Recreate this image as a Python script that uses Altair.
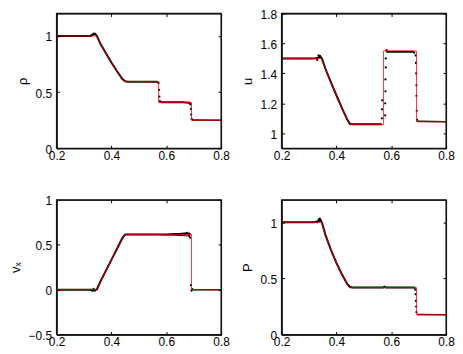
import altair as alt
import pandas as pd

# ---- data ----
X_TICKS = [0.2, 0.4, 0.6, 0.8]
X_DOMAIN = [0.2, 0.8]

# exact (red) solution, shared x positions
EX_X = [0.2, 0.345, 0.36, 0.38, 0.40, 0.42, 0.44, 0.4476, 0.572, 0.572, 0.692, 0.692, 0.8]
EX_RHO = [1.0, 1.0, 0.931, 0.845, 0.764, 0.688, 0.618, 0.593, 0.593, 0.408, 0.408, 0.249, 0.249]
EX_U = [1.5, 1.5, 1.431, 1.34, 1.254, 1.17, 1.09, 1.058, 1.058, 1.55, 1.55, 1.077, 1.077]
EX_VX = [0.0, 0.0, 0.091, 0.211, 0.332, 0.453, 0.574, 0.615, 0.615, 0.615, 0.615, 0.0, 0.0]
EX_P = [1.0, 1.0, 0.888, 0.755, 0.639, 0.537, 0.449, 0.418, 0.418, 0.418, 0.418, 0.177, 0.177]

# simulation (black) curve segments, broken at the discontinuities
RHO_A_X = [0.2, 0.32, 0.333, 0.34, 0.347, 0.36, 0.38, 0.40, 0.42, 0.44, 0.45, 0.46, 0.566, 0.570]
RHO_A_Y = [1.0, 1.0, 1.01, 1.02, 1.0, 0.93, 0.845, 0.764, 0.688, 0.617, 0.596, 0.592, 0.592, 0.585]
RHO_B_X = [0.577, 0.582, 0.66, 0.684, 0.687]
RHO_B_Y = [0.415, 0.41, 0.41, 0.405, 0.395]
RHO_C_X = [0.694, 0.8]
RHO_C_Y = [0.251, 0.249]

U_A_X = [0.2, 0.32, 0.333, 0.34, 0.347, 0.36, 0.38, 0.40, 0.42, 0.44, 0.45, 0.46, 0.566]
U_A_Y = [1.5, 1.5, 1.505, 1.515, 1.5, 1.431, 1.34, 1.254, 1.17, 1.09, 1.062, 1.06, 1.06]
U_B_X = [0.582, 0.585, 0.68, 0.686]
U_B_Y = [1.55, 1.545, 1.545, 1.535]
U_C_X = [0.695, 0.8]
U_C_Y = [1.08, 1.077]

VX_A_X = [0.2, 0.32, 0.333, 0.34, 0.347, 0.36, 0.38, 0.40, 0.42, 0.44, 0.45, 0.46, 0.60, 0.64,
          0.67, 0.682, 0.686]
VX_A_Y = [0.0, 0.0, -0.01, -0.005, 0.003, 0.091, 0.212, 0.332, 0.453, 0.574, 0.615, 0.615, 0.615,
          0.62, 0.622, 0.625, 0.61]
VX_LOW_X = [0.58, 0.62, 0.66, 0.68, 0.685]
VX_LOW_Y = [0.612, 0.608, 0.602, 0.598, 0.59]
VX_HIGH_X = [0.62, 0.65, 0.67, 0.68]
VX_HIGH_Y = [0.62, 0.626, 0.632, 0.64]
VX_C_X = [0.694, 0.8]
VX_C_Y = [0.0, 0.0]

P_A_X = [0.2, 0.32, 0.333, 0.34, 0.347, 0.36, 0.38, 0.40, 0.42, 0.44, 0.45, 0.46, 0.57, 0.575,
         0.58, 0.684, 0.687]
P_A_Y = [1.0, 1.0, 1.01, 1.03, 1.0, 0.888, 0.755, 0.639, 0.537, 0.449, 0.424, 0.42, 0.42, 0.425,
         0.42, 0.42, 0.41]
P_C_X = [0.694, 0.8]
P_C_Y = [0.18, 0.177]

# scattered particles
RHO_DOT_X = [0.325, 0.33, 0.335, 0.338, 0.572, 0.574, 0.575, 0.577, 0.688, 0.69, 0.691, 0.693]
RHO_DOT_Y = [1.0, 1.01, 1.02, 1.015, 0.58, 0.52, 0.46, 0.42, 0.39, 0.35, 0.30, 0.26]
U_DOT_X = [0.33, 0.335, 0.338, 0.34, 0.566, 0.566, 0.567, 0.578, 0.578, 0.579, 0.579, 0.58, 0.58,
           0.583, 0.689, 0.69, 0.691, 0.692, 0.692, 0.693, 0.694]
U_DOT_Y = [1.49, 1.52, 1.505, 1.515, 1.10, 1.16, 1.22, 1.12, 1.2, 1.28, 1.36, 1.44, 1.5,
           1.555, 1.52, 1.47, 1.40, 1.32, 1.25, 1.15, 1.09]
VX_DOT_X = [0.325, 0.33, 0.335, 0.34, 0.684, 0.685, 0.687, 0.69, 0.692, 0.695]
VX_DOT_Y = [0.0, -0.01, 0.01, -0.01, 0.6, 0.62, 0.58, 0.05, -0.01, 0.005]
P_DOT_X = [0.33, 0.335, 0.338, 0.34, 0.575, 0.688, 0.689, 0.69, 0.691, 0.692]
P_DOT_Y = [1.0, 1.02, 1.03, 1.01, 0.425, 0.40, 0.36, 0.30, 0.25, 0.20]

W, H = 166, 136
FONT = "Liberation Sans"
FRAME = "#111111"


def panel(title, ydom, yticks, ex_y, sims, dot_x, dot_y):
    ex = pd.DataFrame({"x": EX_X, "y": ex_y, "i": list(range(len(EX_X)))})
    frames = []
    for k, (sx, sy, sw) in enumerate(sims):
        frames.append(pd.DataFrame({"x": sx, "y": sy, "i": list(range(len(sx))),
                                    "s": f"s{k}", "w": sw}))
    sim = pd.concat(frames, ignore_index=True)
    dots = pd.DataFrame({"x": dot_x, "y": dot_y})
    # closed box around the plot area, from the axis domains
    box = pd.DataFrame({
        "x": [X_DOMAIN[0], X_DOMAIN[1], X_DOMAIN[1], X_DOMAIN[0], X_DOMAIN[0]],
        "y": [ydom[0], ydom[0], ydom[1], ydom[1], ydom[0]],
        "i": [0, 1, 2, 3, 4]})

    xscale = alt.Scale(domain=X_DOMAIN, nice=False, zero=False)
    yscale = alt.Scale(domain=ydom, nice=False, zero=False)

    xaxis = alt.Axis(values=X_TICKS, format="~g", title=None, grid=True,
                     gridDash=[3, H - 6, 3, 1000], gridColor="black", gridOpacity=1,
                     ticks=False, domain=True, domainColor=FRAME, domainWidth=1,
                     labelFont=FONT, labelFontSize=12,
                     labelColor="black", labelPadding=2, labelFlush=False, labelOverlap=False)
    yaxis = alt.Axis(values=yticks, format="~g", title=title, grid=True,
                     gridDash=[3, W - 6, 3, 1000], gridColor="black", gridOpacity=1,
                     ticks=False, domain=True, domainColor=FRAME, domainWidth=1, labelOffset=1,
                     labelFont=FONT, labelFontSize=12,
                     labelColor="black", labelPadding=5, labelFlush=False, labelOverlap=False,
                     titleFont=FONT, titleFontSize=13, titleFontWeight="normal",
                     titleColor="black", titlePadding=6)
    x = alt.X("x:Q", scale=xscale, axis=xaxis)
    y = alt.Y("y:Q", scale=yscale, axis=yaxis)

    sim_line = alt.Chart(sim).mark_line(color="black", clip=True).encode(
        x=x, y=y, detail="s:N", order="i:Q",
        strokeWidth=alt.StrokeWidth("w:Q", scale=None, legend=None))
    dot_layer = alt.Chart(dots).mark_circle(color="black", size=5, opacity=1, clip=True).encode(
        x=x, y=y)
    ex_line = alt.Chart(ex).mark_line(color="#ff0000", strokeWidth=1, opacity=0.8, clip=True).encode(
        x=x, y=y, order="i:Q")
    frame = alt.Chart(box).mark_line(color=FRAME, strokeWidth=1.3, clip=False).encode(
        x=x, y=y, order="i:Q")

    return alt.layer(sim_line, dot_layer, ex_line, frame).properties(width=W, height=H)


p1 = panel("ρ", [0, 1.2], [0, 0.5, 1], EX_RHO,
           [(RHO_A_X, RHO_A_Y, 2), (RHO_B_X, RHO_B_Y, 2), (RHO_C_X, RHO_C_Y, 1.5)],
           RHO_DOT_X, RHO_DOT_Y)
p2 = panel("u", [0.9, 1.8], [1, 1.2, 1.4, 1.6, 1.8], EX_U,
           [(U_A_X, U_A_Y, 2), (U_B_X, U_B_Y, 2), (U_C_X, U_C_Y, 1.5)],
           U_DOT_X, U_DOT_Y)
p3 = panel("vₓ", [-0.5, 1], [-0.5, 0, 0.5, 1], EX_VX,
           [(VX_A_X, VX_A_Y, 2), (VX_LOW_X, VX_LOW_Y, 1), (VX_HIGH_X, VX_HIGH_Y, 1),
            (VX_C_X, VX_C_Y, 1.5)],
           VX_DOT_X, VX_DOT_Y)
p4 = panel("P", [0, 1.2], [0, 0.5, 1], EX_P,
           [(P_A_X, P_A_Y, 2), (P_C_X, P_C_Y, 1.5)],
           P_DOT_X, P_DOT_Y)

chart = alt.concat(p1, p2, p3, p4, columns=2, spacing={"row": 52, "column": 61}).properties(
    bounds="flush",
    padding={"left": 0, "top": -2, "right": 0, "bottom": 0},
).configure(background="white").configure_view(stroke="black", strokeWidth=1)

chart.save("out.html", embed_options={"renderer": "svg", "actions": False})
